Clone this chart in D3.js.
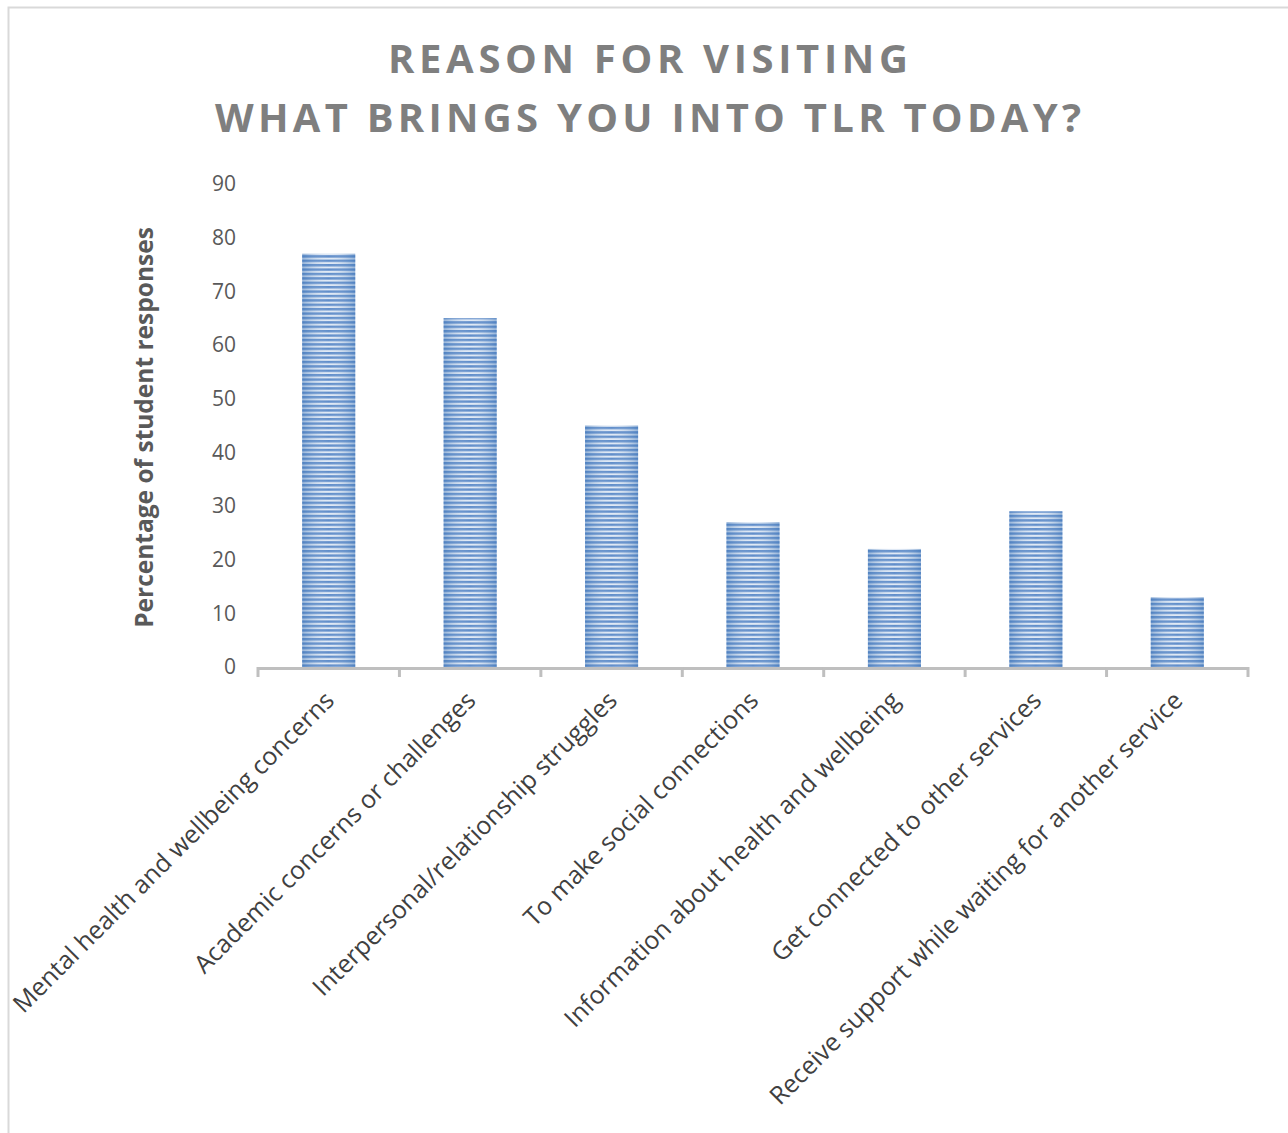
<!DOCTYPE html>
<html>
<head>
<meta charset="utf-8">
<script src="https://cdn.jsdelivr.net/npm/d3@7"></script>
<style>
  body { margin: 0; background: #fff; }
  text { font-family: "Open Sans", sans-serif; }
</style>
</head>
<body>
<svg id="chart" width="1288" height="1133"></svg>
<script>
// data
const categories = [
  "Mental health and wellbeing concerns",
  "Academic concerns or challenges",
  "Interpersonal/relationship struggles",
  "To make social connections",
  "Information about health and wellbeing",
  "Get connected to other services",
  "Receive support while waiting for another service"
];
const values = [77, 65, 45, 27, 22, 29, 13];
const yTicks = [0, 10, 20, 30, 40, 50, 60, 70, 80, 90];
const titleLines = ["REASON FOR VISITING", "WHAT BRINGS YOU INTO TLR TODAY?"];

const svg = d3.select("#chart");
const width = 1288, height = 1133;
const margin = { top: 184, right: 40, bottom: 465, left: 258 };

// outer border
svg.append("rect")
  .attr("x", 8.5).attr("y", 7.5)
  .attr("width", width + 20).attr("height", height + 20)
  .attr("fill", "#fff").attr("stroke", "#d9d9d9").attr("stroke-width", 2);

// stripe pattern + horizontal shading
const defs = svg.append("defs");
const pat = defs.append("pattern")
  .attr("id", "stripes")
  .attr("patternUnits", "userSpaceOnUse")
  .attr("width", 10).attr("height", 4.4);
pat.append("rect").attr("width", 10).attr("height", 4.4).attr("fill", "#dde7f4");
pat.append("rect").attr("y", 0).attr("width", 10).attr("height", 2.4).attr("fill", "#4f81c4");

const grad = defs.append("linearGradient").attr("id", "shade")
  .attr("x1", 0).attr("x2", 1).attr("y1", 0).attr("y2", 0);
grad.append("stop").attr("offset", "0%").attr("stop-color", "#4f81bd").attr("stop-opacity", 0.5);
grad.append("stop").attr("offset", "50%").attr("stop-color", "#ffffff").attr("stop-opacity", 0.1);
grad.append("stop").attr("offset", "100%").attr("stop-color", "#4f81bd").attr("stop-opacity", 0.5);

const x = d3.scaleBand()
  .domain(categories)
  .range([margin.left, width - margin.right])
  .paddingInner(0.625)
  .paddingOuter(0.3125);

const y = d3.scaleLinear()
  .domain([0, 90])
  .range([667, margin.top]);

// title
svg.selectAll(".title")
  .data(titleLines)
  .enter().append("text")
  .attr("class", "title")
  .attr("x", 648)
  .attr("y", (d, i) => 73 + i * 59)
  .attr("text-anchor", "middle")
  .attr("font-size", 40)
  .attr("font-weight", "bold")
  .attr("fill", "#7f7f7f")
  .attr("textLength", (d, i) => i === 0 ? 520 : 866)
  .attr("lengthAdjust", "spacing")
  .text(d => d);

// y axis labels (no axis line)
const yAxis = svg.append("g")
  .attr("transform", `translate(${margin.left},0)`)
  .call(d3.axisLeft(y).tickValues(yTicks).tickSize(0).tickPadding(22));
yAxis.select(".domain").remove();
yAxis.selectAll("text")
  .attr("font-size", 21)
  .attr("fill", "#595959")
  .style("font-family", "'Open Sans', sans-serif");

// y axis title
svg.append("text")
  .attr("transform", `translate(153,${(y(0) + y(90)) / 2 + 2}) rotate(-90)`)
  .attr("text-anchor", "middle")
  .attr("font-size", 24.5)
  .attr("font-weight", "bold")
  .attr("fill", "#595959")
  .text("Percentage of student responses");

// bars
const bars = svg.append("g");
bars.selectAll("rect.bar")
  .data(values)
  .enter().append("rect")
  .attr("class", "bar")
  .attr("x", (d, i) => x(categories[i]))
  .attr("y", d => y(d))
  .attr("width", x.bandwidth())
  .attr("height", d => y(0) - y(d))
  .attr("fill", "url(#stripes)");
bars.selectAll("rect.shade")
  .data(values)
  .enter().append("rect")
  .attr("class", "shade")
  .attr("x", (d, i) => x(categories[i]))
  .attr("y", d => y(d))
  .attr("width", x.bandwidth())
  .attr("height", d => y(0) - y(d))
  .attr("fill", "url(#shade)");

// x axis line with boundary ticks
const step = x.step();
const x0 = margin.left, x1 = width - margin.right;
const xAxis = svg.append("g").attr("stroke", "#bfbfbf").attr("stroke-width", 3);
xAxis.append("line")
  .attr("x1", x0).attr("x2", x1)
  .attr("y1", y(0) + 1.5).attr("y2", y(0) + 1.5);
xAxis.selectAll("line.tick")
  .data(d3.range(categories.length + 1))
  .enter().append("line")
  .attr("class", "tick")
  .attr("x1", i => x0 + i * step).attr("x2", i => x0 + i * step)
  .attr("y1", y(0)).attr("y2", y(0) + 10);

// category labels rotated
svg.append("g").selectAll("text")
  .data(categories)
  .enter().append("text")
  .attr("transform", d => `translate(${x(d) + x.bandwidth() / 2 + 7},${y(0) + 35}) rotate(-45)`)
  .attr("text-anchor", "end")
  .attr("font-size", 25)
  .attr("fill", "#404040")
  .text(d => d);
</script>
</body>
</html>
